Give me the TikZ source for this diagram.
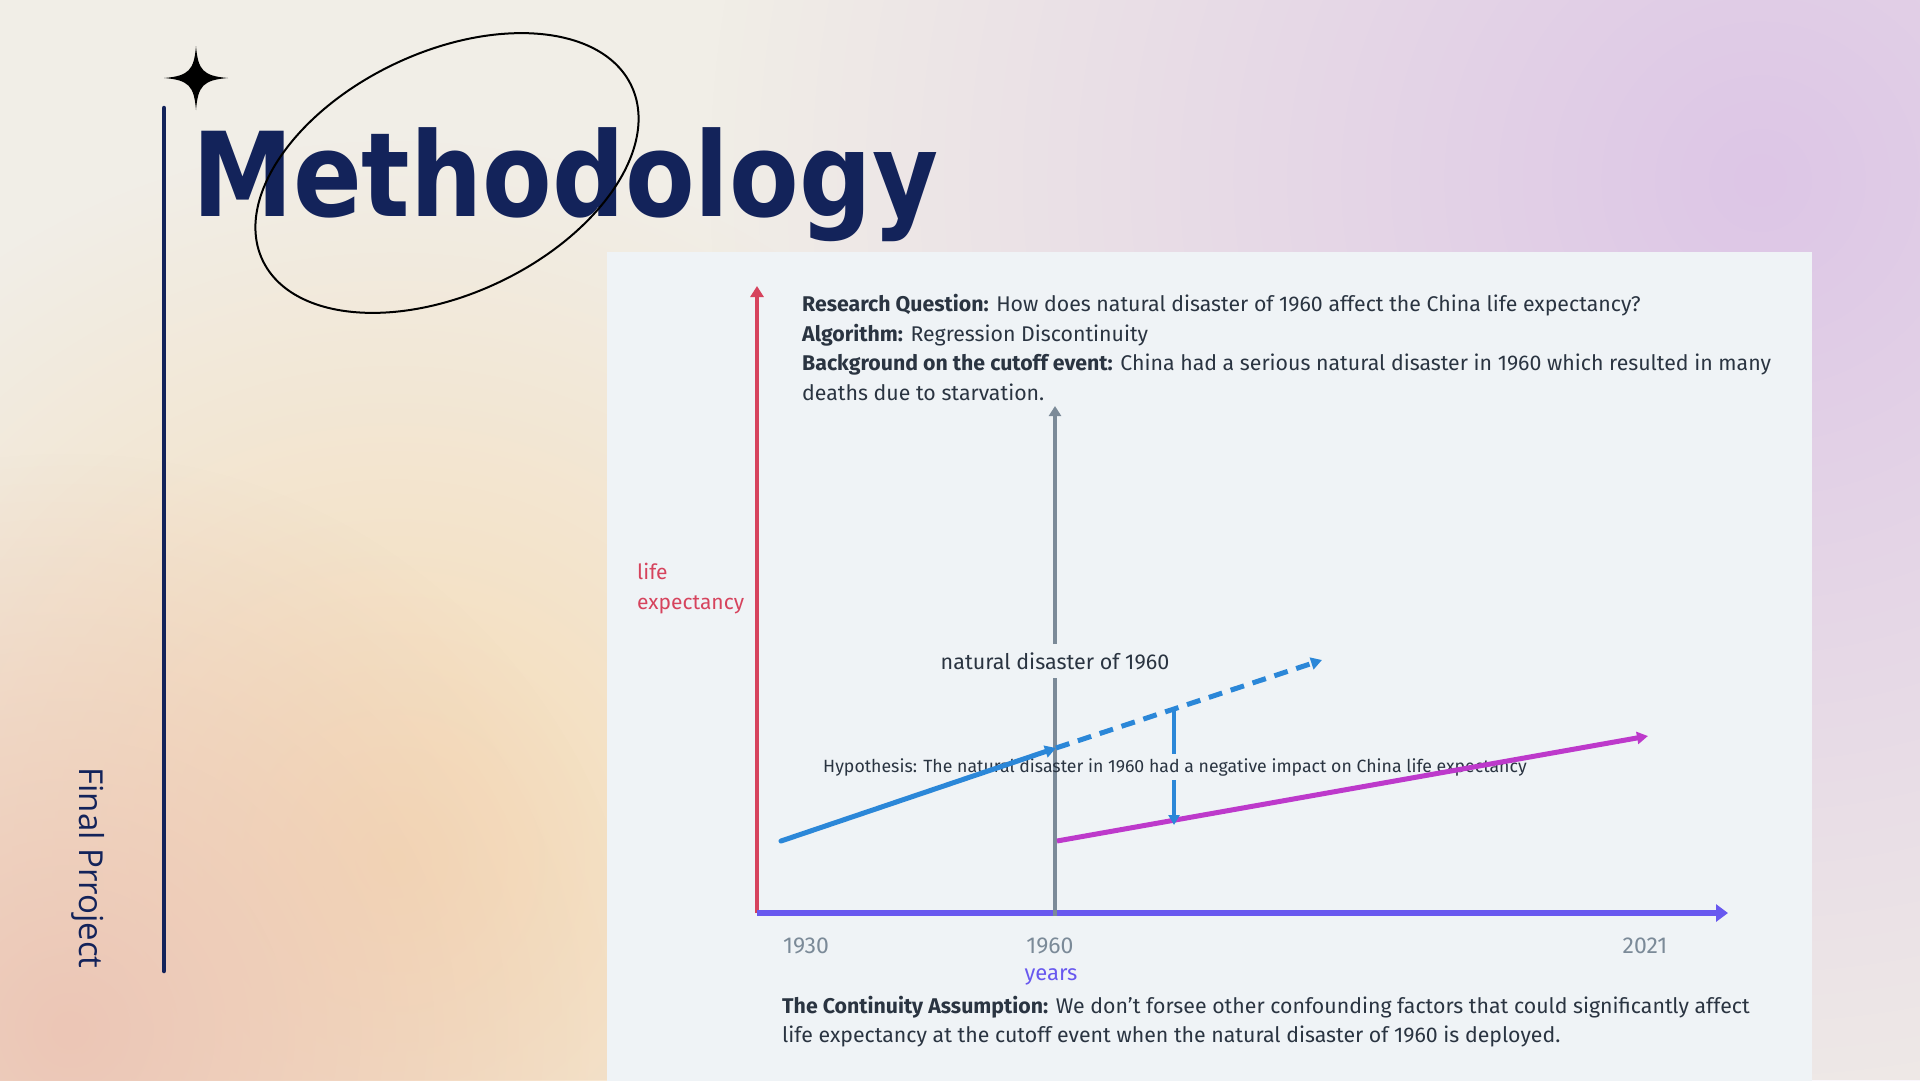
\documentclass[tikz,border=0pt]{standalone}
\usepackage{fontspec}
\setmainfont{Fira Sans}
\newfontfamily\titlefont{DejaVu Sans}
\newfontfamily\sidefont{Open Sans}
\usepackage{graphicx}
\usetikzlibrary{arrows.meta,fadings}
\tikzfading[name=softglow, inner color=transparent!0, outer color=transparent!100]
\definecolor{bgc}{HTML}{F1EEE7}
\definecolor{lilac}{HTML}{DDC6E6}
\definecolor{peach}{HTML}{F6DBB4}
\definecolor{rose}{HTML}{ECC6B6}
\definecolor{panelc}{HTML}{EFF3F6}
\definecolor{navy}{HTML}{13235A}
\definecolor{ink}{HTML}{2A3441}
\definecolor{axred}{HTML}{D6435D}
\definecolor{axpurple}{HTML}{6858EF}
\definecolor{cutgray}{HTML}{7B8A98}
\definecolor{trendblue}{HTML}{2B87D8}
\definecolor{trendmag}{HTML}{BD39CB}
\begin{document}
\begin{tikzpicture}[x=1pt,y=-1pt,
  bodyline/.style={inner sep=0pt, anchor=base west, text=ink, font=\fontsize{21.3}{25}\selectfont},
  ticklab/.style={inner sep=0pt, text=cutgray, font=\fontsize{23}{27}\selectfont},
  axlab/.style={inner sep=0pt, font=\fontsize{21}{25}\selectfont},
  trend/.style={line width=5pt},
  tipsmall/.style={-{Triangle[length=11pt,width=12pt]}}
]
\useasboundingbox (0,0) rectangle (1920,1080);
\clip (0,0) rectangle (1920,1080);
% background
\fill[bgc] (0,0) rectangle (1920,1080);
\fill[lilac, path fading=softglow] (1760,180) circle (1050pt);
\fill[peach, path fading=softglow] (393,860) circle (720pt);
\fill[rose, path fading=softglow] (70,1030) circle (580pt);
% panel
\fill[panelc] (607,252) rectangle (1812,1081);

% left decorations
\fill[black] (196,46) .. controls (198,70) and (203,76) .. (228,78)
  .. controls (203,80) and (198,86) .. (196,110)
  .. controls (194,86) and (189,80) .. (164,78)
  .. controls (189,76) and (194,70) .. (196,46) -- cycle;
\coordinate (vtop) at (164,108);
\coordinate (vbot) at (164,971);
\draw[navy, line width=4.5pt, line cap=round] (vtop) -- (vbot);
\node[rotate=-90, text=navy, inner sep=0pt, font=\sidefont\fontsize{33}{33}\selectfont] (side) at (88,868) {Final Prroject};

% title
\node[anchor=base west, inner sep=0pt, text=navy, font=\titlefont\bfseries\fontsize{117}{117}\selectfont] (title) at (192,216) {\resizebox{746pt}{\height}{Methodology}};
\draw[black, line width=2pt, rotate around={25.3:(447,173)}] (447,173) ellipse [x radius=204pt, y radius=121pt];

% text block
\node[bodyline] (l1) at (802,311) {\textbf{Research Question:} How does natural disaster of 1960 affect the China life expectancy?};
\node[bodyline] (l2) at (802,341) {\textbf{Algorithm:} Regression Discontinuity};
\node[bodyline] (l3) at (802,370) {\textbf{Background on the cutoff event:} China had a serious natural disaster in 1960 which resulted in many};
\node[bodyline] (l4) at (802,400) {deaths due to starvation.};
\node[bodyline] (c1) at (782,1013) {\textbf{The Continuity Assumption:} We don’t forsee other confounding factors that could significantly affect};
\node[bodyline] (c2) at (782,1042) {life expectancy at the cutoff event when the natural disaster of 1960 is deployed.};

% axes
\coordinate (O) at (757,913);
\coordinate (ytop) at (757,286);
\coordinate (xend) at (1728,913);
\draw[axred, line width=4pt, -{Triangle[length=11pt,width=13pt]}] (O) -- (ytop);
\draw[axpurple, line width=6pt, -{Triangle[length=12pt,width=17pt]}] (O) -- (xend);

\node[axlab, text=axred, anchor=base west] (life1) at (637,579) {life};
\node[axlab, text=axred, anchor=base west] (life2) at (637,609) {expectancy};
\node[ticklab] (t1930) at (806,946) {1930};
\node[ticklab] (t1960) at (1050,946) {1960};
\node[ticklab] (t2021) at (1645,946) {2021};
\node[axlab, text=axpurple, font=\fontsize{22}{26}\selectfont] (years) at (1051,977) {years};

% cutoff line
\coordinate (cut0) at (1055,916);
\coordinate (cuttop) at (1055,406);
\node[inner xsep=2pt, inner ysep=8pt, text=ink, font=\fontsize{21.5}{25}\selectfont] (cutlab) at (1055,661) {natural disaster of 1960};
\draw[cutgray, line width=4pt] (cut0) -- (cutlab.south);
\draw[cutgray, line width=4pt, -{Triangle[length=10pt,width=12pt]}] (cutlab.north) -- (cuttop);

% hypothesis label
\node[inner sep=4pt, text=ink, font=\fontsize{17.7}{20}\selectfont] (hyp) at (1175,767) {Hypothesis: The natural disaster in 1960 had a negative impact on China life expectancy};

% trends
\coordinate (b0) at (781,841);
\coordinate (b1) at (1056,748);
\coordinate (d1) at (1322,660);
\coordinate (m0) at (1057,841);
\coordinate (m1) at (1648,736);
\draw[trendblue, trend, line cap=round, tipsmall] (b0) -- (b1);
\draw[trendblue, trend, dash pattern=on 14pt off 9pt, tipsmall] (b1) -- (d1);
\draw[trendmag, trend, tipsmall] (m0) -- (m1);

\coordinate (v0) at (1174,707);
\coordinate (v1) at (1174,825);
\draw[trendblue, line width=3.5pt] (v0) -- (v0 |- hyp.north);
\draw[trendblue, line width=3.5pt, -{Triangle[length=10pt,width=11pt]}] (v0 |- hyp.south) -- (v1);
\end{tikzpicture}
\end{document}
